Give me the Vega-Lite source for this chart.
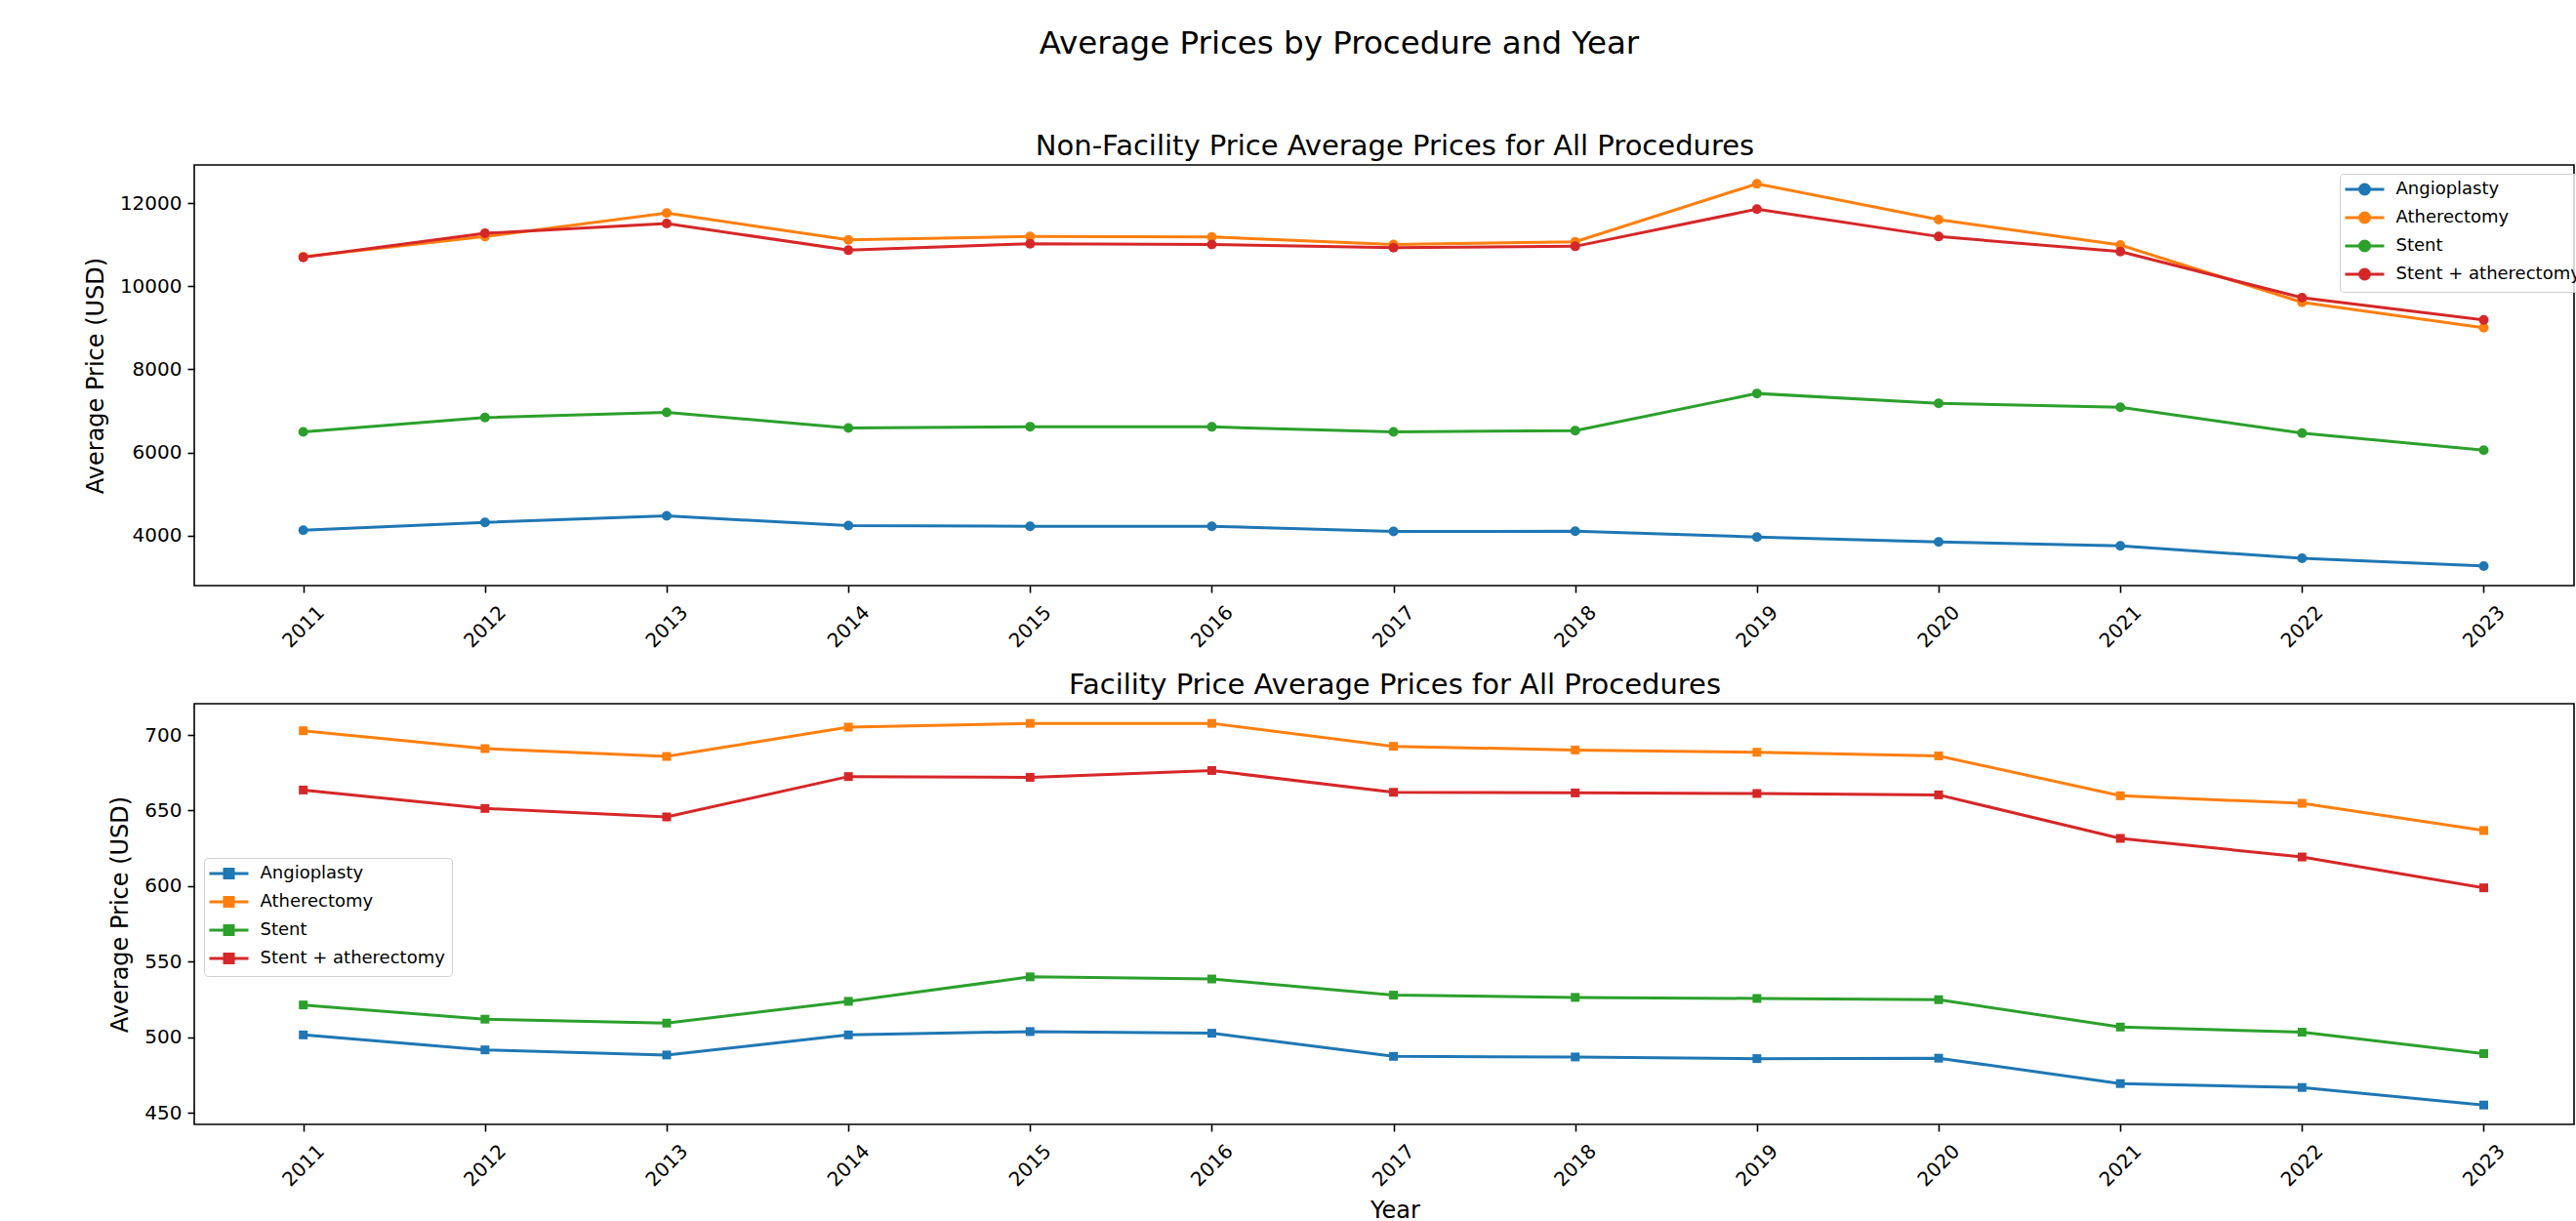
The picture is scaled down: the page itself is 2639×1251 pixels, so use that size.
{
  "$schema": "https://vega.github.io/schema/vega-lite/v6.json",
  "background": "white",
  "padding": {"left": 85, "top": 28, "right": 0, "bottom": 0},
  "title": {"text": "Average Prices by Procedure and Year", "fontSize": 32.5, "offset": 74, "dx": 3, "anchor": "middle", "font": "DejaVu Sans", "fontWeight": "normal", "color": "#000"},
  "datasets": {
    "nonfacility": [
      {"year": 2011, "procedure": "Angioplasty", "price": 4126}, {"year": 2011, "procedure": "Atherectomy", "price": 10714}, {"year": 2011, "procedure": "Stent", "price": 6494}, {"year": 2011, "procedure": "Stent + atherectomy", "price": 10700},
      {"year": 2012, "procedure": "Angioplasty", "price": 4314}, {"year": 2012, "procedure": "Atherectomy", "price": 11200}, {"year": 2012, "procedure": "Stent", "price": 6839}, {"year": 2012, "procedure": "Stent + atherectomy", "price": 11278},
      {"year": 2013, "procedure": "Angioplasty", "price": 4471}, {"year": 2013, "procedure": "Atherectomy", "price": 11765}, {"year": 2013, "procedure": "Stent", "price": 6965}, {"year": 2013, "procedure": "Stent + atherectomy", "price": 11514},
      {"year": 2014, "procedure": "Angioplasty", "price": 4235}, {"year": 2014, "procedure": "Atherectomy", "price": 11122}, {"year": 2014, "procedure": "Stent", "price": 6588}, {"year": 2014, "procedure": "Stent + atherectomy", "price": 10871},
      {"year": 2015, "procedure": "Angioplasty", "price": 4220}, {"year": 2015, "procedure": "Atherectomy", "price": 11200}, {"year": 2015, "procedure": "Stent", "price": 6620}, {"year": 2015, "procedure": "Stent + atherectomy", "price": 11027},
      {"year": 2016, "procedure": "Angioplasty", "price": 4220}, {"year": 2016, "procedure": "Atherectomy", "price": 11190}, {"year": 2016, "procedure": "Stent", "price": 6615}, {"year": 2016, "procedure": "Stent + atherectomy", "price": 11010},
      {"year": 2017, "procedure": "Angioplasty", "price": 4094}, {"year": 2017, "procedure": "Atherectomy", "price": 11010}, {"year": 2017, "procedure": "Stent", "price": 6494}, {"year": 2017, "procedure": "Stent + atherectomy", "price": 10933},
      {"year": 2018, "procedure": "Angioplasty", "price": 4102}, {"year": 2018, "procedure": "Atherectomy", "price": 11075}, {"year": 2018, "procedure": "Stent", "price": 6526}, {"year": 2018, "procedure": "Stent + atherectomy", "price": 10965},
      {"year": 2019, "procedure": "Angioplasty", "price": 3961}, {"year": 2019, "procedure": "Atherectomy", "price": 12470}, {"year": 2019, "procedure": "Stent", "price": 7420}, {"year": 2019, "procedure": "Stent + atherectomy", "price": 11859},
      {"year": 2020, "procedure": "Angioplasty", "price": 3843}, {"year": 2020, "procedure": "Atherectomy", "price": 11608}, {"year": 2020, "procedure": "Stent", "price": 7184}, {"year": 2020, "procedure": "Stent + atherectomy", "price": 11200},
      {"year": 2021, "procedure": "Angioplasty", "price": 3749}, {"year": 2021, "procedure": "Atherectomy", "price": 10996}, {"year": 2021, "procedure": "Stent", "price": 7090}, {"year": 2021, "procedure": "Stent + atherectomy", "price": 10839},
      {"year": 2022, "procedure": "Angioplasty", "price": 3451}, {"year": 2022, "procedure": "Atherectomy", "price": 9616}, {"year": 2022, "procedure": "Stent", "price": 6463}, {"year": 2022, "procedure": "Stent + atherectomy", "price": 9726},
      {"year": 2023, "procedure": "Angioplasty", "price": 3263}, {"year": 2023, "procedure": "Atherectomy", "price": 9004}, {"year": 2023, "procedure": "Stent", "price": 6055}, {"year": 2023, "procedure": "Stent + atherectomy", "price": 9192}
    ],
    "facility": [
      {"year": 2011, "procedure": "Angioplasty", "price": 501.6}, {"year": 2011, "procedure": "Atherectomy", "price": 702.8}, {"year": 2011, "procedure": "Stent", "price": 521.4}, {"year": 2011, "procedure": "Stent + atherectomy", "price": 663.6},
      {"year": 2012, "procedure": "Angioplasty", "price": 491.7}, {"year": 2012, "procedure": "Atherectomy", "price": 691.0}, {"year": 2012, "procedure": "Stent", "price": 512.0}, {"year": 2012, "procedure": "Stent + atherectomy", "price": 651.4},
      {"year": 2013, "procedure": "Angioplasty", "price": 488.3}, {"year": 2013, "procedure": "Atherectomy", "price": 685.8}, {"year": 2013, "procedure": "Stent", "price": 509.4}, {"year": 2013, "procedure": "Stent + atherectomy", "price": 645.8},
      {"year": 2014, "procedure": "Angioplasty", "price": 501.6}, {"year": 2014, "procedure": "Atherectomy", "price": 705.2}, {"year": 2014, "procedure": "Stent", "price": 523.8}, {"year": 2014, "procedure": "Stent + atherectomy", "price": 672.5},
      {"year": 2015, "procedure": "Angioplasty", "price": 503.8}, {"year": 2015, "procedure": "Atherectomy", "price": 707.7}, {"year": 2015, "procedure": "Stent", "price": 540.0}, {"year": 2015, "procedure": "Stent + atherectomy", "price": 672.0},
      {"year": 2016, "procedure": "Angioplasty", "price": 502.7}, {"year": 2016, "procedure": "Atherectomy", "price": 707.7}, {"year": 2016, "procedure": "Stent", "price": 538.6}, {"year": 2016, "procedure": "Stent + atherectomy", "price": 676.5},
      {"year": 2017, "procedure": "Angioplasty", "price": 487.4}, {"year": 2017, "procedure": "Atherectomy", "price": 692.5}, {"year": 2017, "procedure": "Stent", "price": 527.9}, {"year": 2017, "procedure": "Stent + atherectomy", "price": 662.1},
      {"year": 2018, "procedure": "Angioplasty", "price": 487.0}, {"year": 2018, "procedure": "Atherectomy", "price": 690.1}, {"year": 2018, "procedure": "Stent", "price": 526.4}, {"year": 2018, "procedure": "Stent + atherectomy", "price": 661.7},
      {"year": 2019, "procedure": "Angioplasty", "price": 485.9}, {"year": 2019, "procedure": "Atherectomy", "price": 688.6}, {"year": 2019, "procedure": "Stent", "price": 525.7}, {"year": 2019, "procedure": "Stent + atherectomy", "price": 661.3},
      {"year": 2020, "procedure": "Angioplasty", "price": 486.2}, {"year": 2020, "procedure": "Atherectomy", "price": 686.2}, {"year": 2020, "procedure": "Stent", "price": 524.9}, {"year": 2020, "procedure": "Stent + atherectomy", "price": 660.4},
      {"year": 2021, "procedure": "Angioplasty", "price": 469.4}, {"year": 2021, "procedure": "Atherectomy", "price": 659.8}, {"year": 2021, "procedure": "Stent", "price": 506.8}, {"year": 2021, "procedure": "Stent + atherectomy", "price": 631.6},
      {"year": 2022, "procedure": "Angioplasty", "price": 466.8}, {"year": 2022, "procedure": "Atherectomy", "price": 654.8}, {"year": 2022, "procedure": "Stent", "price": 503.4}, {"year": 2022, "procedure": "Stent + atherectomy", "price": 619.3},
      {"year": 2023, "procedure": "Angioplasty", "price": 455.2}, {"year": 2023, "procedure": "Atherectomy", "price": 636.8}, {"year": 2023, "procedure": "Stent", "price": 489.2}, {"year": 2023, "procedure": "Stent + atherectomy", "price": 598.9}
    ]
  },
  "config": {
    "font": "DejaVu Sans",
    "view": {"stroke": "#000", "strokeWidth": 1.6},
    "axis": {"grid": false, "domain": false, "labelFont": "DejaVu Sans", "labelFontSize": 20, "labelColor": "#000", "tickColor": "#000", "tickSize": 7, "tickWidth": 1.6, "titleFont": "DejaVu Sans", "titleFontSize": 24, "titleFontWeight": "normal", "titleColor": "#000"},
    "axisY": {"labelPadding": 6, "titlePadding": 12},
    "axisX": {"labelAngle": -45, "labelAlign": "center", "labelBaseline": "middle", "labelPadding": 35, "titlePadding": 9},
    "title": {"font": "DejaVu Sans", "fontSize": 29, "fontWeight": "normal", "color": "#000", "offset": 4},
    "legend": {"orient": "none", "title": null, "labelFont": "DejaVu Sans", "labelFontSize": 18, "labelColor": "#000", "labelLimit": 500, "symbolSize": 196, "symbolStrokeWidth": 3, "symbolOffset": 9.5, "labelOffset": 23, "fillColor": "rgba(255,255,255,0.8)", "strokeColor": "#d0d0d0", "cornerRadius": 4, "padding": 7, "rowPadding": 7}
  },
  "spacing": 19,
  "resolve": {"legend": {"color": "independent"}},
  "vconcat": [
    {
      "title": {"text": "Non-Facility Price Average Prices for All Procedures", "frame": "group", "dx": 11},
      "width": 2438,
      "height": 431,
      "data": {"name": "nonfacility"},
      "encoding": {
        "x": {"field": "year", "type": "quantitative", "scale": {"domain": [2010.4, 2023.497], "nice": false, "zero": false}, "axis": {"values": [2011, 2012, 2013, 2014, 2015, 2016, 2017, 2018, 2019, 2020, 2021, 2022, 2023], "format": "d", "title": null}},
        "y": {"field": "price", "type": "quantitative", "scale": {"domain": [2791, 12925], "nice": false, "zero": false}, "axis": {"values": [4000, 6000, 8000, 10000, 12000], "format": "d", "title": "Average Price (USD)"}},
        "color": {"field": "procedure", "type": "nominal", "scale": {"domain": ["Angioplasty", "Atherectomy", "Stent", "Stent + atherectomy"], "range": ["#1f77b4", "#ff7f0e", "#2ca02c", "#d62728"]},
          "legend": {"legendX": 2198, "legendY": 9, "symbolType": "M-2.857,0H2.857M0.714,0A0.714,0.714,0,1,1,-0.714,0A0.714,0.714,0,1,1,0.714,0Z", "encode": {"symbols": {"update": {"fill": {"signal": "scale('color', datum.value)"}}}}}}
      },
      "layer": [
        {"mark": {"type": "line", "strokeWidth": 3}},
        {"mark": {"type": "point", "shape": "circle", "filled": true, "size": 100, "opacity": 1}}
      ]
    },
    {
      "title": {"text": "Facility Price Average Prices for All Procedures", "frame": "group", "dx": 11},
      "width": 2438,
      "height": 431,
      "data": {"name": "facility"},
      "encoding": {
        "x": {"field": "year", "type": "quantitative", "scale": {"domain": [2010.4, 2023.497], "nice": false, "zero": false}, "axis": {"values": [2011, 2012, 2013, 2014, 2015, 2016, 2017, 2018, 2019, 2020, 2021, 2022, 2023], "format": "d", "title": "Year", "titleX": 1230}},
        "y": {"field": "price", "type": "quantitative", "scale": {"domain": [442.4, 720.7], "nice": false, "zero": false}, "axis": {"values": [450, 500, 550, 600, 650, 700], "format": "d", "title": "Average Price (USD)"}},
        "color": {"field": "procedure", "type": "nominal", "scale": {"domain": ["Angioplasty", "Atherectomy", "Stent", "Stent + atherectomy"], "range": ["#1f77b4", "#ff7f0e", "#2ca02c", "#d62728"]},
          "legend": {"legendX": 10, "legendY": 158, "symbolType": "M-2.857,0H2.857M-0.643,-0.643H0.643V0.643H-0.643Z", "encode": {"symbols": {"update": {"fill": {"signal": "scale('color', datum.value)"}}}}}}
      },
      "layer": [
        {"mark": {"type": "line", "strokeWidth": 3}},
        {"mark": {"type": "point", "shape": "square", "filled": true, "size": 81, "opacity": 1}}
      ]
    }
  ]
}
